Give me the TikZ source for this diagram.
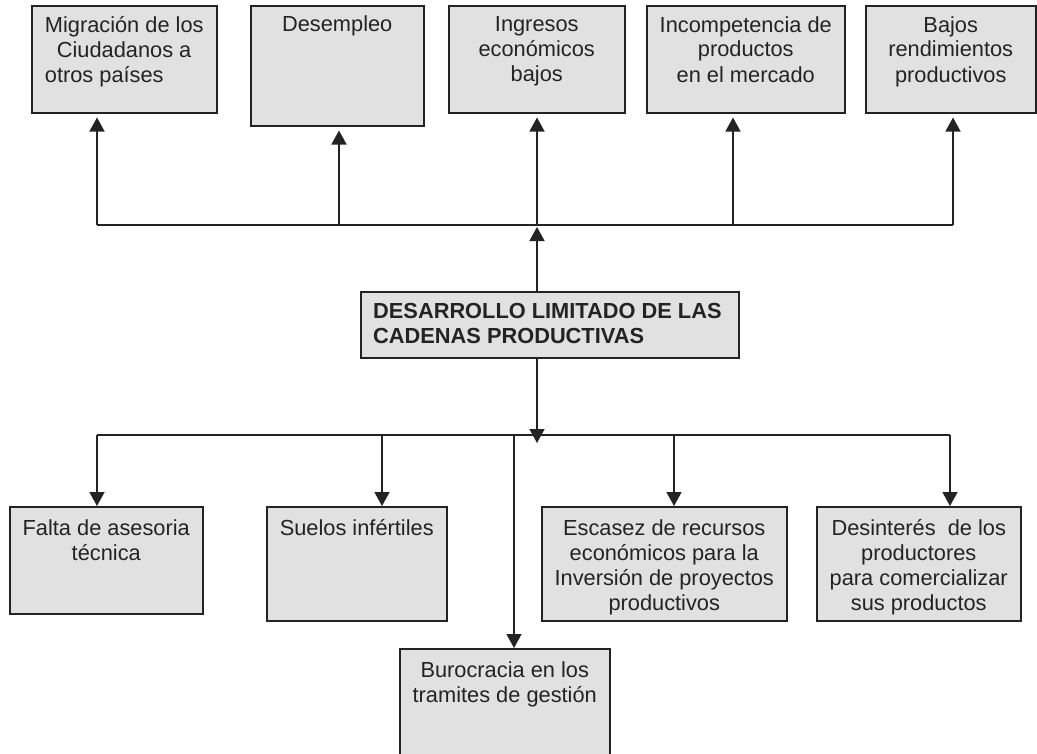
\documentclass[tikz,border=0pt]{standalone}
\usepackage{fontspec}
\setmainfont{Liberation Sans}
\usetikzlibrary{arrows.meta}
\definecolor{relleno}{RGB}{225,225,225}
\definecolor{trazo}{RGB}{35,35,35}

\begin{document}
\begin{tikzpicture}[x = 1pt, y = -1pt,
		caja/.style = {draw = trazo, fill = relleno, line width = 1.5pt, anchor = north west, inner sep = 0pt},
		texto/.style = {anchor = north, align = center, inner sep = 0pt, text = trazo, font = \fontsize{21.8}{25}\selectfont},
		textoizq/.style = {texto, anchor = north west, align = left, font = \fontsize{21.8}{25.5}\selectfont\bfseries},
		linea/.style = {draw = trazo, line width = 1.5pt},
		flecha/.style = {linea, -{Triangle[width = 15pt, length = 14pt]}}]
						\useasboundingbox (0, 0) rectangle (1037, 753);

						\node [caja, minimum width = 185, minimum height = 107, label = {[texto, align = left, yshift = -11pt] north:Migración de los\\\hspace*{12pt}Ciudadanos a\\otros países}] (M) at (31, 5) {};
						\node [caja, minimum width = 173, minimum height = 120, label = {[texto, yshift = -11pt] north:Desempleo}] (D) at (250, 5) {};
						\node [caja, minimum width = 176, minimum height = 107, label = {[texto, yshift = -11pt] north:Ingresos\\económicos\\bajos}] (I) at (448, 5) {};
						\node [caja, minimum width = 198, minimum height = 107, label = {[texto, yshift = -11pt] north:Incompetencia de\\productos\\en el mercado}] (P) at (646, 5) {};
						\node [caja, minimum width = 170, minimum height = 107, label = {[texto, yshift = -11pt] north:Bajos\\rendimientos\\productivos}] (R) at (865, 5) {};

						\node [caja, minimum width = 378, minimum height = 66, label = {[textoizq, xshift = 13pt, yshift = -12pt] north west:DESARROLLO LIMITADO DE LAS\\CADENAS PRODUCTIVAS}] (C) at (360, 291) {};

						\node [caja, minimum width = 193, minimum height = 107, label = {[texto, yshift = -13pt] north:Falta de asesoria\\técnica}] (F) at (9, 506) {};
						\node [caja, minimum width = 180, minimum height = 114, label = {[texto, yshift = -13pt] north:Suelos infértiles}] (S) at (266, 506) {};
						\node [caja, minimum width = 245, minimum height = 114, label = {[texto, yshift = -13pt] north:Escasez de recursos\\económicos para la\\Inversión de proyectos\\productivos}] (E) at (541, 506) {};
						\node [caja, minimum width = 204, minimum height = 114, label = {[texto, yshift = -13pt] north:Desinterés~ de los\\productores\\para comercializar\\sus productos}] (T) at (816, 506) {};
						\node [caja, minimum width = 210, minimum height = 120, label = {[texto, yshift = -13pt] north:Burocracia en los\\tramites de gestión}] (B) at (399, 648) {};

						\coordinate (s1) at (97, 225);
						\coordinate (s2) at (339, 225);
						\coordinate (s3) at (537, 225);
						\coordinate (s4) at (733, 225);
						\coordinate (s5) at (953, 225);

						\coordinate (i1) at (97, 435);
						\coordinate (i2) at (382, 435);
						\coordinate (i3) at (514, 435);
						\coordinate (i4) at (537, 443);
						\coordinate (i5) at (674, 435);
						\coordinate (i6) at (950, 435);

						\draw [linea] (s1) -- (s5);
						\draw [flecha] (s3 |- C.north) -- ([yshift = -2pt] s3);
						\draw [flecha, shorten > = 4pt] (s1) -- (s1 |- M.south);
						\draw [flecha, shorten > = 4pt] (s2) -- (s2 |- D.south);
						\draw [flecha, shorten > = 4pt] (s3) -- (s3 |- I.south);
						\draw [flecha, shorten > = 4pt] (s4) -- (s4 |- P.south);
						\draw [flecha, shorten > = 4pt] (s5) -- (s5 |- R.south);

						\draw [linea] (i1) -- (i6);
						\draw [flecha] (i4 |- C.south) -- (i4);
						\draw [flecha] (i1) -- (i1 |- F.north);
						\draw [flecha] (i2) -- (i2 |- S.north);
						\draw [flecha] (i3) -- (i3 |- B.north);
						\draw [flecha] (i5) -- (i5 |- E.north);
						\draw [flecha] (i6) -- (i6 |- T.north);
					\end{tikzpicture}
\end{document}
